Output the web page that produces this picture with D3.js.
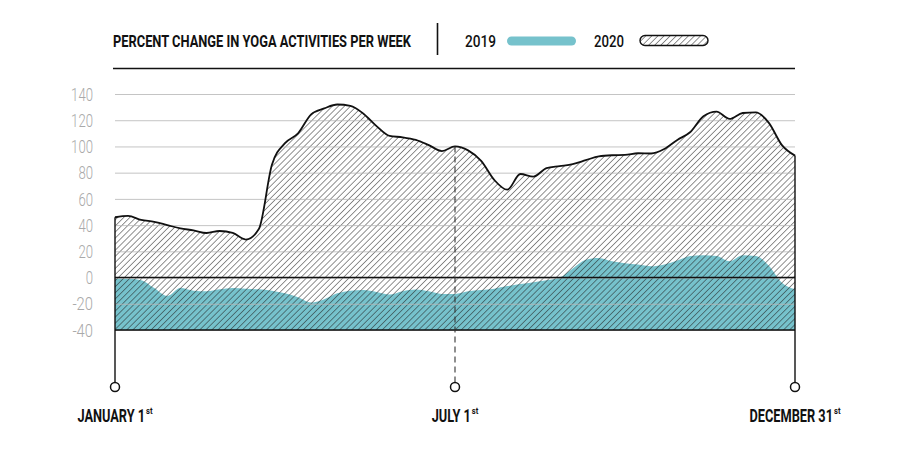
<!DOCTYPE html>
<html>
<head>
<meta charset="utf-8">
<script src="https://cdn.jsdelivr.net/npm/d3@7"></script>
<style>
  html, body { margin: 0; padding: 0; background: #fff; }
  svg { display: block; }
</style>
</head>
<body>
<svg id="chart" width="900" height="450"></svg>
<script>
// ---- data ----
const weeks = d3.range(53); // week index 0..52 (Jan 1 .. Dec 31)
const values2020 = [46, 47, 44, 42.5, 40, 37.5, 36, 34, 35.5, 34, 29, 37, 86, 102.5, 110, 124.5, 129, 132, 131, 125,
  115.5, 108, 107, 105, 101, 96.5, 100, 97, 89, 74.5, 67, 79, 77, 83.5, 85, 86.5, 89.5, 92.5, 93.3, 93.5,
  94.8, 94.6, 98, 105, 111, 123, 126.5, 121, 125.5, 126, 118, 101, 93];
const values2019 = [-1, -1, -2, -8, -14, -8, -10, -10.5, -9, -8, -8.5, -9, -10, -12, -15, -19, -16.5, -12, -10, -9.5,
  -11, -13, -10.5, -9.2, -10.5, -12.5, -12.5, -10.5, -9.5, -8.5, -6.5, -5, -3.5, -2, 0, 7, 13.5, 15, 12.5, 11,
  10, 8.6, 10, 13, 16.5, 17, 16.5, 12.5, 17, 16.5, 9, -4, -9];
const yTicks = [140, 120, 100, 80, 60, 40, 20, 0, -20, -40];
const milestoneLabels = ["JANUARY 1", "JULY 1", "DECEMBER 31"];
const milestoneWeeks = [0, 26, 52];
const milestoneSuffix = "st";
const titleText = "PERCENT CHANGE IN YOGA ACTIVITIES PER WEEK";
const seriesNames = ["2019", "2020"];

// ---- layout ----
const teal = "#76c2cc";
const svg = d3.select("#chart");
const x = d3.scaleLinear().domain([0, 52]).range([115, 795]);
const y = d3.scaleLinear().domain([-40, 140]).range([330, 94]);
const yBase = y(-40);
const yCircle = 387;

const defs = svg.append("defs");
const pat = defs.append("pattern")
  .attr("id", "hatch").attr("patternUnits", "userSpaceOnUse")
  .attr("width", 4.3).attr("height", 4.3)
  .attr("patternTransform", "rotate(45)");
pat.append("line").attr("x1", 0).attr("y1", 0).attr("x2", 0).attr("y2", 4.3)
  .attr("stroke", "#222").attr("stroke-width", 1);

const d2019 = weeks.map((w, i) => ({ w, v: values2019[i] }));
const d2020 = weeks.map((w, i) => ({ w, v: values2020[i] }));
const curve = d3.curveMonotoneX;

// 2019 teal area
svg.append("path").datum(d2019)
  .attr("fill", teal)
  .attr("d", d3.area().x(d => x(d.w)).y0(yBase).y1(d => y(d.v)).curve(curve));

// 2020 hatched area
svg.append("path").datum(d2020)
  .attr("fill", "url(#hatch)")
  .attr("d", d3.area().x(d => x(d.w)).y0(yBase).y1(d => y(d.v)).curve(curve));

// gridlines via axis
const gAxis = svg.append("g").attr("transform", `translate(${x(0)},0)`)
  .call(d3.axisLeft(y).tickValues(yTicks).tickSize(-(x(52) - x(0))).tickFormat(""));
gAxis.select(".domain").remove();
gAxis.selectAll(".tick line").attr("stroke", "#b5b5b5").attr("stroke-width", 1).attr("opacity", 0.8);

// y tick labels
svg.append("g").selectAll("text").data(yTicks).join("text")
  .attr("x", 93).attr("y", d => y(d)).attr("dy", "0.36em")
  .attr("text-anchor", "end")
  .attr("font-family", "Roboto, 'DejaVu Sans', sans-serif")
  .attr("font-weight", 300)
  .attr("font-size", 18.5)
  .attr("fill", "#a9a9a9")
  .attr("textLength", d => { const s = String(d); return s.replace("-", "").length * 7.3 + (s.includes("-") ? 6 : 0); })
  .attr("lengthAdjust", "spacingAndGlyphs")
  .text(d => d);

// zero and baseline lines
svg.append("line").attr("x1", x(0)).attr("x2", x(52)).attr("y1", y(0)).attr("y2", y(0))
  .attr("stroke", "#111").attr("stroke-width", 1.6);
svg.append("line").attr("x1", x(0)).attr("x2", x(52)).attr("y1", yBase).attr("y2", yBase)
  .attr("stroke", "#111").attr("stroke-width", 1.6);

// 2020 line
svg.append("path").datum(d2020)
  .attr("fill", "none").attr("stroke", "#111").attr("stroke-width", 1.8)
  .attr("d", d3.line().x(d => x(d.w)).y(d => y(d.v)).curve(curve));

// milestone verticals + circles + labels
const condense = 0.69;
milestoneWeeks.forEach((w, i) => {
  const xp = x(w);
  const top = y(values2020[w]);
  const isMid = i === 1;
  svg.append("line").attr("x1", xp).attr("x2", xp).attr("y1", top).attr("y2", yCircle - 4.5)
    .attr("stroke", isMid ? "#333" : "#111")
    .attr("stroke-width", isMid ? 1.1 : 1.4)
    .attr("stroke-dasharray", isMid ? "6,4" : null);
  svg.append("circle").attr("cx", xp).attr("cy", yCircle).attr("r", 4.5)
    .attr("fill", "#fff").attr("stroke", "#111").attr("stroke-width", 1.5);

  const t = svg.append("text").attr("y", 421.5)
    .attr("font-family", "Roboto, sans-serif").attr("font-weight", 700)
    .attr("font-size", 18.5).attr("fill", "#111");
  const main = t.append("tspan").text(milestoneLabels[i]);
  const natural = main.node().getComputedTextLength();
  const mainW = natural * condense;
  main.attr("textLength", mainW).attr("lengthAdjust", "spacingAndGlyphs");
  const supW = 6.5;
  t.append("tspan").attr("dx", 1).attr("dy", -8).attr("font-size", 9.5)
    .attr("textLength", supW).attr("lengthAdjust", "spacingAndGlyphs")
    .text(milestoneSuffix);
  const total = mainW + 1 + supW;
  t.attr("x", xp - total / 2);
});

// header
svg.append("text").attr("x", 113).attr("y", 47.3)
  .attr("font-family", "Roboto, sans-serif").attr("font-weight", 700)
  .attr("font-size", 17).attr("fill", "#111")
  .attr("textLength", 298).attr("lengthAdjust", "spacingAndGlyphs")
  .text(titleText);
svg.append("line").attr("x1", 437.5).attr("x2", 437.5).attr("y1", 23).attr("y2", 55)
  .attr("stroke", "#111").attr("stroke-width", 1.6);
svg.append("line").attr("x1", 113).attr("x2", 795).attr("y1", 68.5).attr("y2", 68.5)
  .attr("stroke", "#111").attr("stroke-width", 1.6);

// legend
svg.append("text").attr("x", 465).attr("y", 47.3)
  .attr("font-family", "Roboto, sans-serif").attr("font-weight", 500)
  .attr("font-size", 17).attr("fill", "#111")
  .attr("textLength", 31).attr("lengthAdjust", "spacingAndGlyphs")
  .text(seriesNames[0]);
svg.append("rect").attr("x", 507).attr("y", 36.5).attr("width", 69).attr("height", 9).attr("rx", 4.5)
  .attr("fill", teal);
svg.append("text").attr("x", 594).attr("y", 47.3)
  .attr("font-family", "Roboto, sans-serif").attr("font-weight", 500)
  .attr("font-size", 17).attr("fill", "#111")
  .attr("textLength", 30).attr("lengthAdjust", "spacingAndGlyphs")
  .text(seriesNames[1]);
svg.append("rect").attr("x", 640).attr("y", 35.5).attr("width", 68).attr("height", 10).attr("rx", 5)
  .attr("fill", "url(#hatch)").attr("stroke", "#111").attr("stroke-width", 1.4);
</script>
</body>
</html>
